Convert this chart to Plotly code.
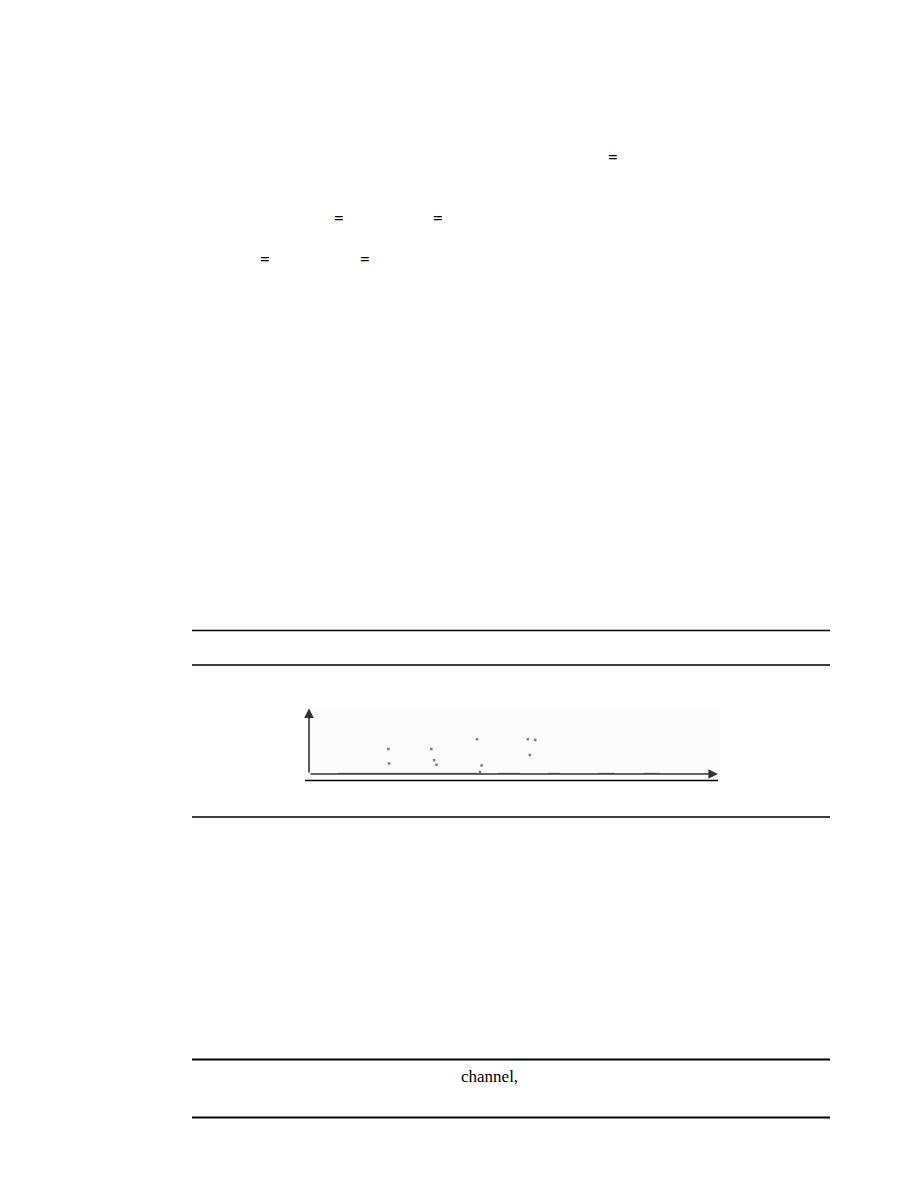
import plotly.graph_objects as go

W, H = 918, 1188
OFF = 8  # page body margin in the browser

# faint sample points in the small plot (x 0-100, y 0-10)
pt_x = [19.4, 19.6, 29.9, 30.6, 31.2, 41.1, 42.2, 41.8, 53.5, 55.3, 54.0]
pt_y = [3.8, 1.6, 3.8, 2.1, 1.4, 5.3, 1.3, 0.3, 5.3, 5.2, 2.9]

# darker pieces lying on the baseline
base_x = [7.1, 41.1, None, 46.2, 51.6, None, 58.4, 61.4, None, 70.7, 74.8, None, 81.7, 85.8]
base_y = [0, 0, None, 0, 0, None, 0, 0, None, 0, 0, None, 0, 0]

# text fragments left on the page (page pixels)
eq_px = [(613, 157), (339, 218), (438, 218), (265, 259), (365, 259)]
rules_y = [630.5, 665, 817, 1059.5, 1117.5]
rules_w = [1.3, 1.3, 1.3, 2.2, 2.2]


def px(x):
    return (x - OFF) / W


def py(y):
    return 1 - (y - OFF) / H


fig = go.Figure()

fig.add_trace(go.Scatter(
    x=base_x, y=base_y, mode="lines",
    line=dict(color="rgba(90,90,90,0.6)", width=2.5),
    hoverinfo="skip", showlegend=False,
))
fig.add_trace(go.Scatter(
    x=pt_x, y=pt_y, mode="markers",
    marker=dict(color="rgba(70,70,70,0.7)", size=2.5, symbol="square"),
    hoverinfo="skip", showlegend=False,
))

# axis arrows
fig.add_annotation(x=100, y=0, ax=0, ay=0, xref="x", yref="y", axref="x", ayref="y",
                   showarrow=True, arrowhead=2, arrowsize=1.2, arrowwidth=1.6,
                   arrowcolor="#333", text="")
fig.add_annotation(x=0, y=10, ax=0, ay=0, xref="x", yref="y", axref="x", ayref="y",
                   showarrow=True, arrowhead=2, arrowsize=1.2, arrowwidth=1.6,
                   arrowcolor="#333", text="")

for x, y in eq_px:
    fig.add_annotation(x=px(x), y=py(y), xref="paper", yref="paper", text="<b>=</b>",
                       showarrow=False, xanchor="center", yanchor="middle",
                       font=dict(family="Liberation Serif", size=17, color="black"))

fig.add_annotation(x=px(489), y=py(1076), xref="paper", yref="paper", text="channel,",
                   showarrow=False, xanchor="center", yanchor="middle",
                   font=dict(family="Liberation Serif", size=17, color="black"))

for y, w in zip(rules_y, rules_w):
    fig.add_shape(type="line", xref="paper", yref="paper",
                  x0=px(192), x1=px(830), y0=py(y), y1=py(y),
                  line=dict(color="black", width=w))

# line under the small plot
fig.add_shape(type="line", xref="paper", yref="paper",
              x0=px(305), x1=px(718), y0=py(780.5), y1=py(780.5),
              line=dict(color="black", width=1.3))

fig.update_layout(
    width=W, height=H,
    margin=dict(l=0, r=0, t=0, b=0),
    paper_bgcolor="white",
    plot_bgcolor="#fcfcfc",
    xaxis=dict(domain=[px(309), px(720)], range=[0, 100.5], visible=False, fixedrange=True),
    yaxis=dict(domain=[py(774), py(707)], range=[0, 10.2], visible=False, fixedrange=True),
)

fig.write_html("out.html")
